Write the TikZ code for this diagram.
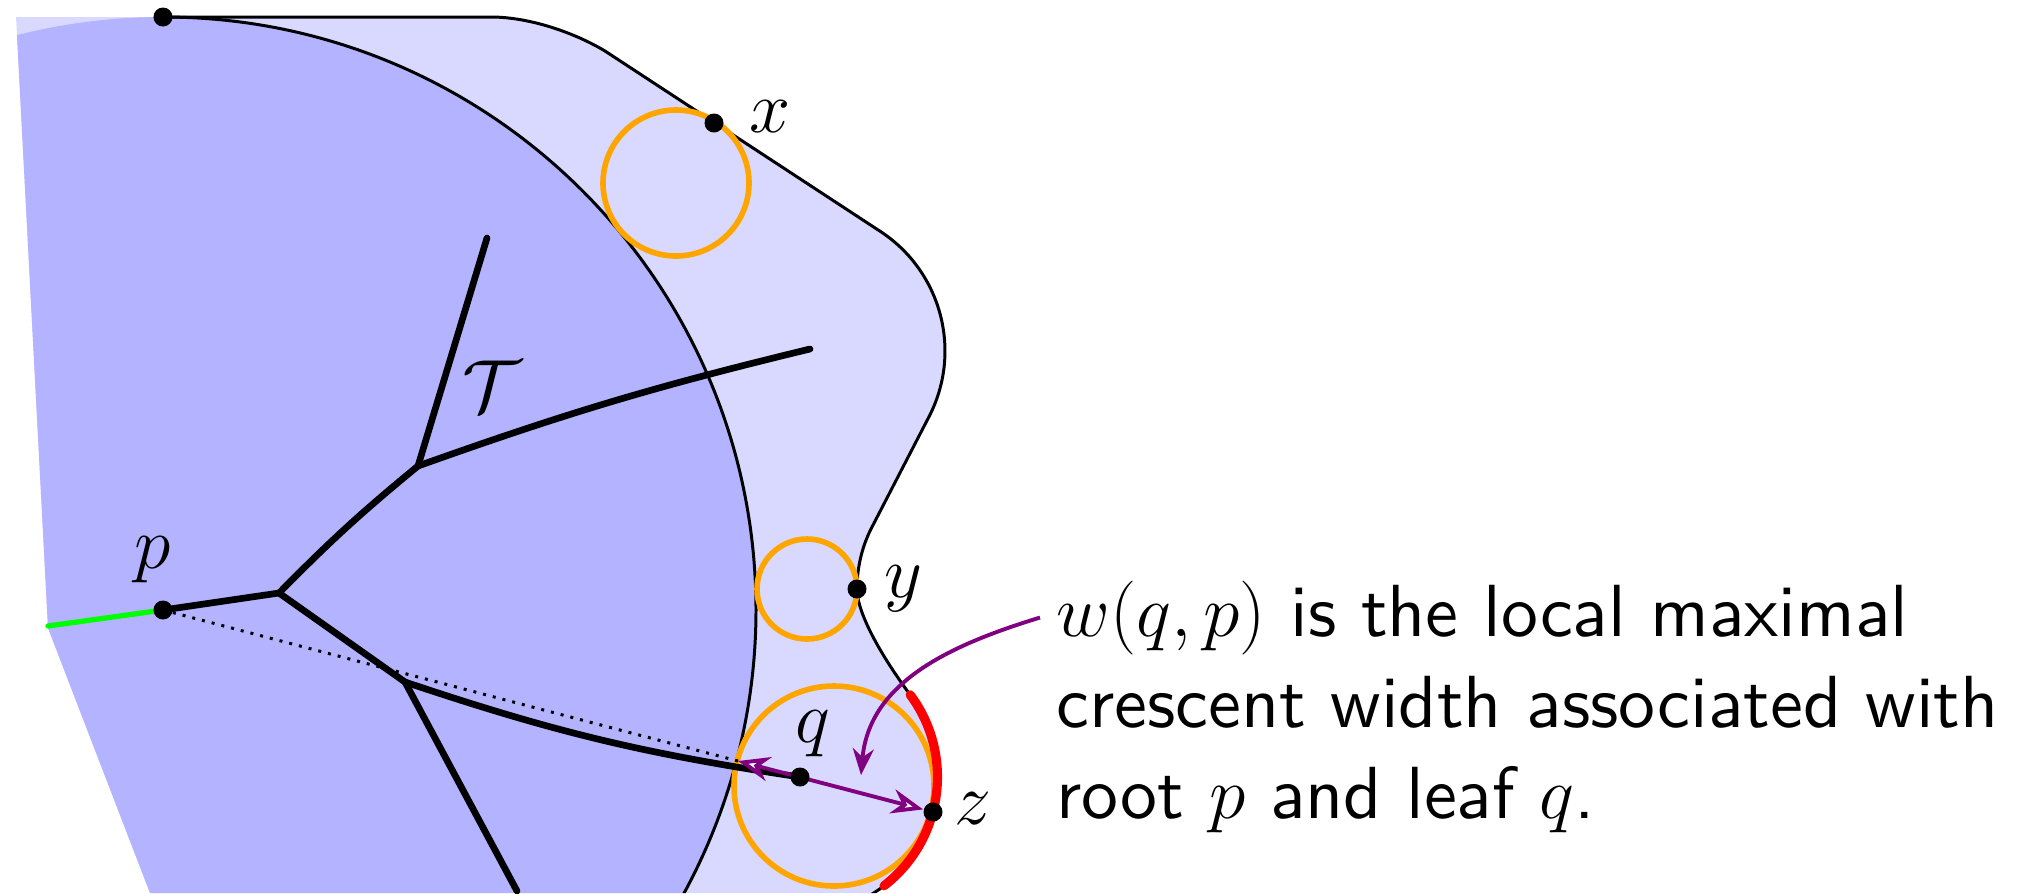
\RequirePackage{fix-cm}
\documentclass[tikz,border=0pt]{standalone}
\usetikzlibrary{arrows.meta}
\DeclareFontFamily{TU}{lmsst}{}
\DeclareFontShape{TU}{lmsst}{m}{n}{<-> \UnicodeFontFile{lmsans10-regular}{\UnicodeFontTeXLigatures}}{}
\definecolor{lightreg}{RGB}{217,217,255}
\definecolor{darkreg}{RGB}{179,179,255}
\definecolor{myorange}{RGB}{255,165,0}
\definecolor{mypurple}{RGB}{128,0,128}
\definecolor{mygreen}{RGB}{0,255,0}
\pgfdeclarelayer{fg}
\pgfsetlayers{main,fg}
\begin{document}
\begin{tikzpicture}[x=0.01cm,y=0.01cm,
  thinline/.style={line width=0.85pt},
  treeline/.style={line width=1.9pt, line cap=round, line join=round},
  ringline/.style={draw=myorange, line width=1.6pt},
  dot/.style={circle, fill=black, inner sep=0pt, minimum size=0.19cm},
  lbl/.style={inner sep=0pt, font=\fontsize{21}{25}\selectfont},
  txt/.style={inner sep=0pt, anchor=base west, font=\fontencoding{TU}\fontfamily{lmsst}\fontsize{21}{25.9}\selectfont},
  ptr/.style={draw=mypurple, line width=1.1pt}]
\useasboundingbox (0,0) rectangle (2036,-893);

% dots on the foreground layer
\begin{pgfonlayer}{fg}
\node[dot] (top) at (163,-17) {};
\node[dot] (xd) at (714,-123) {};
\node[dot] (yd) at (857,-589) {};
\node[dot] (p) at (163,-610) {};
\node[dot] (q) at (800,-777) {};
\node[dot] (z) at (933,-812) {};
\end{pgfonlayer}

\coordinate (A) at (279,-593);
\coordinate (B) at (418,-466);
\coordinate (C) at (405,-682);
\coordinate (L1) at (487,-238);
\coordinate (L2) at (810,-349);
\coordinate (L3) at (517,-891);
\coordinate (G) at (48,-626);
\coordinate (W) at (738,-761);
\coordinate (E) at (861,-775);

\begin{scope}
\clip (15.4,-5) -- (48,-628) -- (150,-893) -- (1020,-893) -- (1020,-5) -- cycle;
% light (outer) region
\fill[lightreg] (0,-17) -- (491,-17) .. controls (530,-17) and (575,-33) .. (605,-51)
  -- (881.1,-231.9) arc[start angle=56.4, end angle=-27.8, radius=143]
  -- (872,-527) .. controls (861,-548) and (857,-570) .. (857,-589)
  .. controls (857,-615) and (885,-661) .. (910.2,-694.8)
  arc[start angle=36.7, end angle=-62, radius=137.5]
  -- (0,-898.4) -- cycle;
% dark disc centred at p
\fill[darkreg] (p.center) circle (593);
\draw[thinline] (top.center) arc[start angle=90, end angle=-40, radius=593];
% outer boundary
\draw[thinline] (top.center) -- (491,-17) .. controls (530,-17) and (575,-33) .. (605,-51)
  -- (881.1,-231.9) arc[start angle=56.4, end angle=-27.8, radius=143]
  -- (872,-527) .. controls (861,-548) and (857,-570) .. (857,-589)
  .. controls (857,-615) and (885,-661) .. (910.2,-694.8)
  arc[start angle=36.7, end angle=-62, radius=137.5];
\end{scope}

% orange discs
\draw[ringline] (676,-183) circle (73);
\draw[ringline] (807,-589) circle (50);
\draw[ringline] (834,-786) circle (100);

% red arc
\draw[red, line width=2.6pt, line cap=round] (910.2,-694.8) arc[start angle=36.7, end angle=-52.3, radius=137.5];

% green segment
\draw[mygreen, line width=1.5pt, line cap=round] (G) -- (p.center);

% tree
\draw[treeline] (p.center) -- (A);
\draw[treeline] (A) to[bend left=3] (B);
\draw[treeline] (B) -- (L1);
\draw[treeline] (B) to[bend left=3] (L2);
\draw[treeline] (A) -- (C);
\draw[treeline] (C) -- (L3);
\draw[treeline] (C) to[bend right=5] (q.center);

% dotted segment
\draw[line width=0.85pt, dotted] (p) -- (W);

% purple double arrow
\draw[ptr, {Stealth[length=9pt,width=7pt,fill=white]}-{Stealth[length=9pt,width=7pt,fill=white]}] (W) -- (z);

% labels
\node[lbl] (xl) at (770,-117) {$x$};
\node[lbl] (yl) at (903,-589) {$y$};
\node[lbl] (zl) at (973,-809) {$z$};
\node[lbl] (ql) at (813,-734) {$q$};
\node[lbl] (pl) at (153,-560) {$p$};
\node[lbl] (Tl) at (492,-386) {$\mathcal{T}$};

% text
\node[txt] (t1) at (1056,-636) {$w(q,p)$ is the local maximal};
\node[txt] (t2) at (1056,-727) {crescent width associated with};
\node[txt] (t3) at (1056,-818) {root $p$ and leaf $q$.};

\draw[ptr, -{Stealth[length=7.5pt,width=6pt]}] ([xshift=-0.16cm]t1.west) to[out=197, in=85] (E);
\end{tikzpicture}
\end{document}
